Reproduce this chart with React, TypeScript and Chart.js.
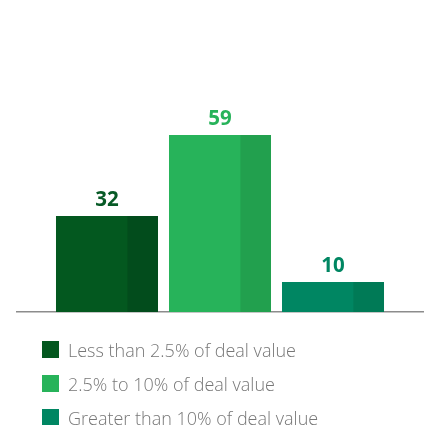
import React, { useEffect, useRef } from "react";
import { Chart, registerables } from "chart.js";

Chart.register(...registerables);

const categories = ["Deal value"];
const seriesLabels = [
  "Less than 2.5% of deal value",
  "2.5% to 10% of deal value",
  "Greater than 10% of deal value",
];
const lessThan25 = [32];
const from25to10 = [59];
const greaterThan10 = [10];
const mainColors = ["#03581f", "#27b35a", "#008662"];
const shadeColors = ["#024c1c", "#22a04e", "#007a56"];
const labelColors = ["#075a26", "#27b35a", "#008662"];

const twoTonePlugin = {
  id: "twoTone",
  afterDatasetsDraw(chart: any) {
    const ctx = chart.ctx;
    chart.data.datasets.forEach((ds: any, i: number) => {
      const meta = chart.getDatasetMeta(i);
      meta.data.forEach((bar: any, j: number) => {
        const { x, y, base, width } = bar.getProps(["x", "y", "base", "width"], true);
        const left = x - width / 2;
        ctx.save();
        ctx.fillStyle = shadeColors[i];
        ctx.fillRect(left + width * 0.7, y, width * 0.3, base - y);
        ctx.fillStyle = labelColors[i];
        ctx.font = "bold 20.5px 'Open Sans'";
        ctx.textAlign = "center";
        ctx.textBaseline = "alphabetic";
        ctx.fillText(String(ds.data[j]), x, y - 10);
        ctx.restore();
      });
    });
  },
};

const legendPlugin = {
  id: "legendRows",
  afterDraw(chart: any) {
    const ctx = chart.ctx;
    chart.data.datasets.forEach((ds: any, i: number) => {
      const top = 341 + 34 * i;
      ctx.save();
      ctx.fillStyle = mainColors[i];
      ctx.fillRect(42, top, 17, 17);
      ctx.fillStyle = "#777777";
      ctx.font = "300 18px 'Open Sans'";
      ctx.textAlign = "left";
      ctx.textBaseline = "alphabetic";
      ctx.fillText(ds.label, 68, top + 16);
      ctx.restore();
    });
  },
};

export default function App() {
  const canvasRef = useRef<HTMLCanvasElement | null>(null);

  useEffect(() => {
    if (!canvasRef.current) return;
    const values = [lessThan25, from25to10, greaterThan10];
    const chart = new Chart(canvasRef.current, {
      type: "bar",
      data: {
        labels: categories,
        datasets: values.map((v, i) => ({
          label: seriesLabels[i],
          data: v,
          backgroundColor: mainColors[i],
          borderWidth: 0,
          categoryPercentage: 0.835,
          barPercentage: 0.9027,
        })),
      },
      options: {
        animation: false,
        responsive: true,
        maintainAspectRatio: false,
        layout: { padding: { left: 17, right: 7, top: 72, bottom: 113 } },
        plugins: {
          legend: { display: false },
          tooltip: { enabled: false },
        },
        scales: {
          x: {
            display: true,
            grid: { display: false, drawTicks: false },
            ticks: { display: false },
            border: { display: true, color: "#8c8c8c", width: 1.5 },
          },
          y: { display: false, min: 0, max: 80 },
        },
      },
      plugins: [twoTonePlugin, legendPlugin],
    });
    return () => chart.destroy();
  }, []);

  return (
    <div style={{ position: "absolute", left: 0, top: 0, width: 430, height: 425, background: "#fff" }}>
      <canvas ref={canvasRef} />
    </div>
  );
}
